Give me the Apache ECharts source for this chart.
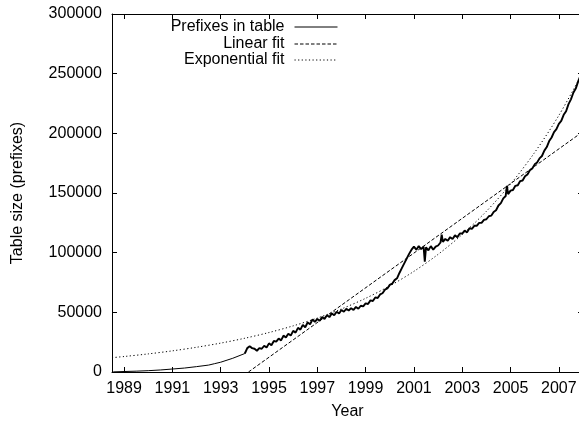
<!DOCTYPE html>
<html>
<head>
<meta charset="utf-8">
<script src="https://cdn.jsdelivr.net/npm/echarts@6/dist/echarts.min.js"></script>
<style>
html,body{margin:0;padding:0;background:#fff;}
#chart{width:579px;height:422px;}
</style>
</head>
<body>
<div id="chart"></div>
<script>
const xTickValues = [1989, 1991, 1993, 1995, 1997, 1999, 2001, 2003, 2005, 2007];
const yTickLabels = ['0', '50000', '100000', '150000', '200000', '250000', '300000'];
const seriesNames = ['Prefixes in table', 'Linear fit', 'Exponential fit'];

const prefixYears = [
  1988.55, 1989, 1989.5, 1990, 1990.5, 1991, 1991.5, 1992, 1992.5, 1992.75, 1993, 1993.5, 1994.0,
  1994.1, 1994.2, 1994.3, 1994.4, 1994.5, 1994.6, 1994.7, 1994.8, 1994.9,
  1995.0, 1995.1, 1995.2, 1995.3, 1995.4, 1995.5, 1995.6, 1995.7, 1995.8, 1995.9,
  1996.0, 1996.1, 1996.2, 1996.3, 1996.4, 1996.5, 1996.6, 1996.7, 1996.8, 1996.9,
  1997.0, 1997.1, 1997.2, 1997.3, 1997.4, 1997.5, 1997.6, 1997.7, 1997.8, 1997.9,
  1998.0, 1998.1, 1998.2, 1998.3, 1998.4, 1998.5, 1998.6, 1998.7, 1998.8, 1998.9,
  1999.0, 1999.1, 1999.2, 1999.3, 1999.4, 1999.5, 1999.6, 1999.7, 1999.8, 1999.9,
  2000.0, 2000.1, 2000.2, 2000.3, 2000.4, 2000.5, 2000.6, 2000.7, 2000.8, 2000.9,
  2001.0, 2001.1, 2001.2, 2001.3, 2001.4, 2001.45, 2001.5, 2001.6, 2001.7, 2001.8, 2001.9,
  2002.0, 2002.1, 2002.15, 2002.2, 2002.3, 2002.4, 2002.5, 2002.6, 2002.7, 2002.8, 2002.9,
  2003.0, 2003.1, 2003.2, 2003.3, 2003.4, 2003.5, 2003.6, 2003.7, 2003.8, 2003.9,
  2004.0, 2004.1, 2004.2, 2004.3, 2004.4, 2004.5, 2004.6, 2004.7, 2004.8, 2004.85, 2004.9,
  2005.0, 2005.1, 2005.2, 2005.3, 2005.4, 2005.5, 2005.6, 2005.7, 2005.8, 2005.9,
  2006.0, 2006.1, 2006.2, 2006.3, 2006.4, 2006.5, 2006.6, 2006.7, 2006.8, 2006.9,
  2007.0, 2007.1, 2007.2, 2007.3, 2007.4, 2007.5, 2007.6, 2007.7, 2007.8, 2007.9
];
const prefixValues = [
  100, 400, 700, 1100, 1700, 2500, 3300, 4500, 5800, 7000, 8200, 11500, 15500,
  20000, 21500, 20000, 19500, 17800, 20000, 19500, 22000, 20500,
  24000, 22500, 26000, 25500, 28000, 26500, 30500, 29000, 32000, 30500,
  34500, 33000, 37000, 35500, 39500, 37500, 41500, 40000, 44000, 42000,
  44500, 43000, 46000, 44500, 47500, 46000, 49000, 47500, 50500, 49000,
  52000, 50500, 53000, 51500, 53500, 52000, 54500, 53000, 55500, 55000,
  57500, 57000, 60000, 59500, 62500, 62000, 65000, 66000, 69000, 70000,
  73000, 74000, 77000, 78500, 83000, 87000, 91000, 95000, 99000, 102500,
  105000, 102500, 105500, 103000, 105000, 92500, 104500, 102000, 105500, 102500, 105000,
  106000, 108500, 115000, 109000, 111500, 110000, 113000, 111500, 114500, 113000, 116000,
  116000, 118500, 117000, 120500, 120000, 122500, 122500, 125000, 125000, 127500,
  128000, 130500, 131000, 134000, 135500, 139500, 141500, 145500, 147500, 156000, 149000,
  152000, 152500, 156000, 156500, 160000, 160500, 164000, 165500, 169000, 170500,
  174000, 175500, 179000, 181000, 185500, 188500, 193500, 196500, 201000, 203500,
  208000, 210500, 215500, 218500, 224500, 228500, 234000, 237500, 243500, 248500
];

const linearYears = [1994.15, 2008];
const linearValues = [0, 201500];

const expYears = [1988.5, 1989, 1990, 1991, 1992, 1993, 1994, 1995, 1996, 1997, 1998,
  1999, 2000, 2001, 2002, 2003, 2004, 2005, 2006, 2007, 2008];
const expValues = [12000, 12970, 15160, 17720, 20720, 24210, 28300, 33080, 38660, 45190, 52820,
  61740, 72160, 84340, 98580, 115230, 134680, 157400, 184000, 215000, 251400];

const noisyFrom = 1994.0;

function zip(xs, ys) { return xs.map((x, i) => [x, ys[i]]); }

const FONT = 'Liberation Sans';
const black = '#000';
const chart = echarts.init(document.getElementById('chart'), null, { renderer: 'canvas' });

const prefixPairs = zip(prefixYears, prefixValues);
const earlyPairs = prefixPairs.filter(p => p[0] <= noisyFrom);
const latePairs = prefixPairs.filter(p => p[0] >= noisyFrom);

const baseX = {
  type: 'value', min: 1988.5, max: 2008,
  axisLine: { show: true, onZero: false, lineStyle: { color: black, width: 1 } },
  axisTick: { show: true, inside: true, length: 5, customValues: xTickValues, lineStyle: { color: black } },
  splitLine: { show: false }
};
const baseY = {
  type: 'value', min: 0, max: 300000, interval: 50000,
  axisLine: { show: true, onZero: false, lineStyle: { color: black, width: 1 } },
  axisTick: { show: true, inside: true, length: 5, lineStyle: { color: black } },
  splitLine: { show: false }
};

function legendFor(name, top) {
  return {
    data: [name], right: 241, top: top, orient: 'vertical', align: 'right',
    padding: 0, itemWidth: 43, itemHeight: 12,
    selectedMode: false,
    itemStyle: { color: 'rgba(0,0,0,0)', borderWidth: 0, borderColor: 'rgba(0,0,0,0)' },
    lineStyle: { width: 1 },
    textStyle: { fontFamily: FONT, fontSize: 16, color: black, padding: [0, 5, 0, 0] }
  };
}

chart.setOption({
  animation: false,
  backgroundColor: '#fff',
  grid: { left: 112, right: -4, top: 14, bottom: 50, containLabel: false, outerBoundsMode: 'none' },
  legend: [legendFor(seriesNames[0], 19), legendFor(seriesNames[1], 36), legendFor(seriesNames[2], 52)],
  xAxis: [
    Object.assign({}, baseX, {
      position: 'bottom',
      name: 'Year', nameLocation: 'middle', nameGap: 32,
      nameTextStyle: { fontFamily: FONT, fontSize: 16, color: black },
      axisLabel: { show: true, customValues: xTickValues, margin: 9, fontFamily: FONT, fontSize: 16, color: black,
        formatter: v => String(Math.round(v)) }
    }),
    Object.assign({}, baseX, { position: 'top', axisLabel: { show: false } })
  ],
  yAxis: [
    Object.assign({}, baseY, {
      position: 'left',
      name: 'Table size (prefixes)', nameLocation: 'middle', nameGap: 86,
      nameTextStyle: { fontFamily: FONT, fontSize: 16, color: black },
      axisLabel: { show: true, margin: 10, fontFamily: FONT, fontSize: 16, color: black,
        formatter: v => yTickLabels[Math.round(v / 50000)] }
    }),
    Object.assign({}, baseY, { position: 'right', axisLabel: { show: false } })
  ],
  series: [
    { name: seriesNames[0], type: 'line', data: earlyPairs, showSymbol: false, symbol: 'none',
      lineStyle: { color: black, width: 1 }, itemStyle: { color: black }, z: 2 },
    { name: seriesNames[0], type: 'line', data: latePairs, showSymbol: false, symbol: 'none',
      lineStyle: { color: black, width: 1.9 }, itemStyle: { color: black }, z: 2 },
    { name: seriesNames[1], type: 'line', data: zip(linearYears, linearValues), showSymbol: false, symbol: 'none',
      lineStyle: { color: black, width: 1, type: [3.5, 2] }, itemStyle: { color: black }, z: 3 },
    { name: seriesNames[2], type: 'line', data: zip(expYears, expValues), showSymbol: false, symbol: 'none', smooth: 0.3,
      lineStyle: { color: black, width: 1, type: [1.2, 2.4] }, itemStyle: { color: black }, z: 3 }
  ]
});
</script>
</body>
</html>
